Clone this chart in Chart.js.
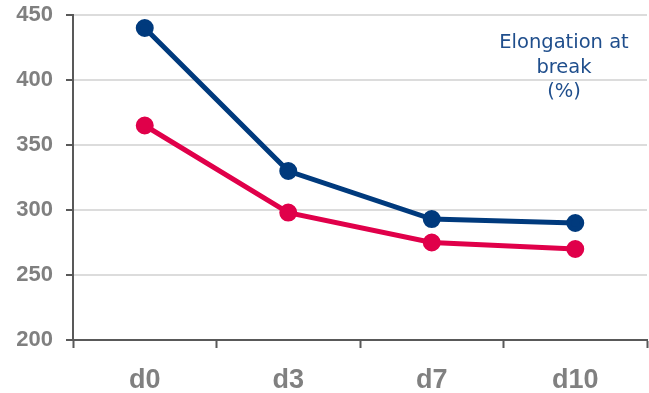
<!DOCTYPE html>
<html>
<head>
<meta charset="utf-8">
<script src="https://cdn.jsdelivr.net/npm/chart.js@4/dist/chart.umd.min.js"></script>
<style>
  html, body { margin: 0; padding: 0; background: #fff; }
  #wrap { width: 649px; height: 393px; }
</style>
</head>
<body>
<div id="wrap"><canvas id="c" width="649" height="393"></canvas></div>
<script>
const days = ['d0', 'd3', 'd7', 'd10'];
const seriesBlue = [440, 330, 293, 290];
const seriesRed = [365, 298, 275, 270];
const yTicks = [200, 250, 300, 350, 400, 450];
const noteLines = ['Elongation at', 'break', '(%)'];

const axisGray = '#595959';

const notePlugin = {
  id: 'note',
  afterDraw(chart) {
    const ctx = chart.ctx;
    ctx.save();
    ctx.fillStyle = '#1f4e8c';
    ctx.font = '19.5px "DejaVu Sans", sans-serif';
    ctx.textAlign = 'center';
    ctx.textBaseline = 'middle';
    const cx = 564;
    noteLines.forEach((t, i) => ctx.fillText(t, cx, 43 + i * 24.5));
    ctx.restore();
  }
};

new Chart(document.getElementById('c'), {
  type: 'line',
  data: {
    labels: days,
    datasets: [
      {
        data: seriesBlue,
        borderColor: '#003a7d',
        backgroundColor: '#003a7d',
        borderWidth: 5,
        pointRadius: 6.5,
        pointHoverRadius: 6.5,
        tension: 0
      },
      {
        data: seriesRed,
        borderColor: '#e0004a',
        backgroundColor: '#e0004a',
        borderWidth: 5,
        pointRadius: 6.5,
        pointHoverRadius: 6.5,
        tension: 0
      }
    ]
  },
  options: {
    responsive: false,
    animation: false,
    events: [],
    layout: { autoPadding: false, padding: { top: 15, right: 2, left: 0, bottom: 0 } },
    plugins: { legend: { display: false }, tooltip: { enabled: false } },
    scales: {
      x: {
        offset: true,
        grid: {
          offset: true,
          drawOnChartArea: false,
          drawTicks: true,
          tickLength: 8,
          tickColor: axisGray,
          tickWidth: 2
        },
        border: { color: axisGray, width: 2 },
        ticks: {
          color: '#808080',
          font: { family: '"Liberation Sans", Arial, sans-serif', size: 27, weight: 'bold' },
          padding: 16
        },
        afterFit(scale) {
          scale.height = 53;
          scale.paddingLeft = 0;
          scale.paddingRight = 0;
        }
      },
      y: {
        min: 200,
        max: 450,
        afterBuildTicks(scale) { scale.ticks = yTicks.map(v => ({ value: v })); },
        grid: {
          color: '#dcdcdc',
          lineWidth: 2,
          drawTicks: true,
          tickLength: 7,
          tickColor: axisGray,
          tickWidth: 2
        },
        border: { color: axisGray, width: 2 },
        ticks: {
          color: '#808080',
          font: { family: '"Liberation Sans", Arial, sans-serif', size: 22, weight: 'bold' },
          padding: 13
        },
        afterFit(scale) {
          scale.width = 73;
          scale.paddingTop = 0;
          scale.paddingBottom = 0;
        }
      }
    }
  },
  plugins: [notePlugin]
});
</script>
</body>
</html>
